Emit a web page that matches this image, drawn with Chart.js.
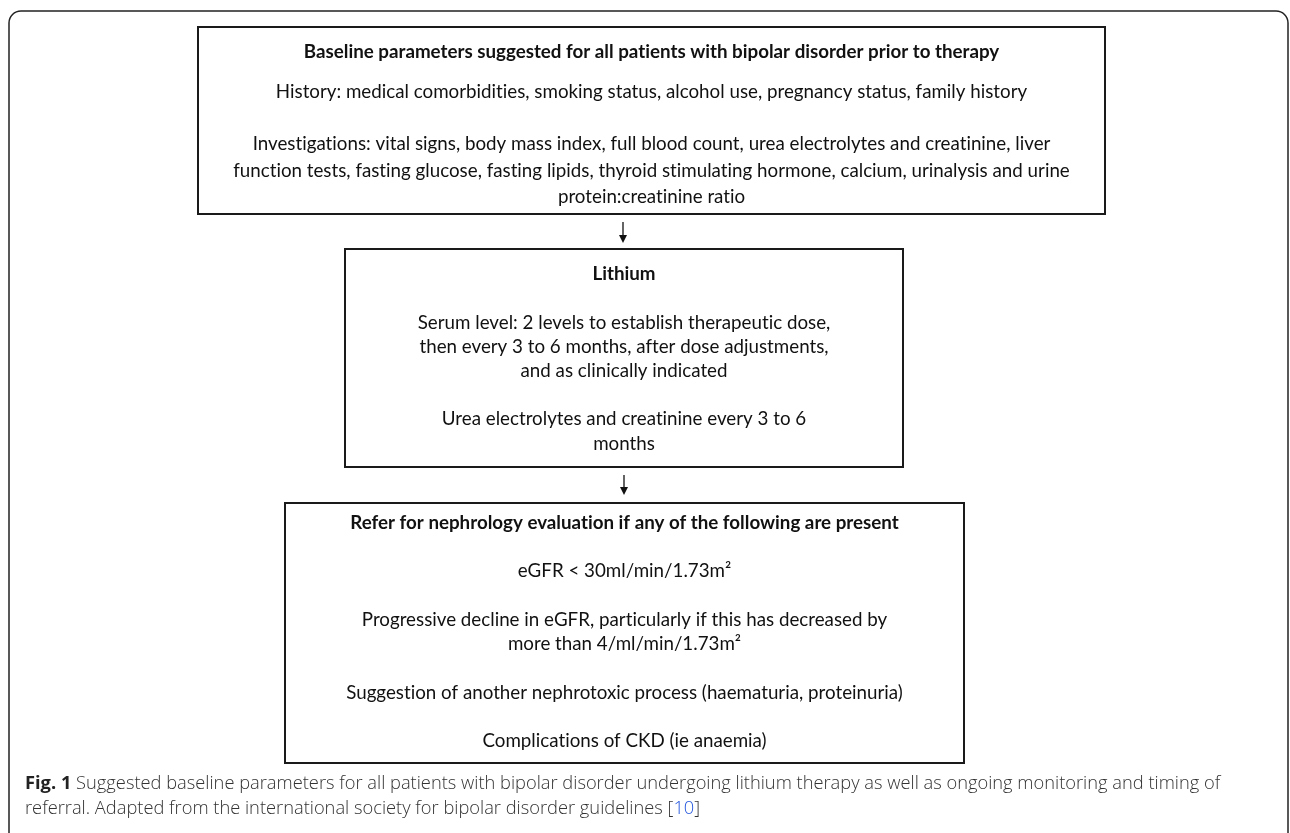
<!DOCTYPE html>
<html><head><meta charset="utf-8">
<script src="https://cdn.jsdelivr.net/npm/chart.js@4"></script>
<style>html,body{margin:0;padding:0;background:#fff;overflow:hidden}canvas{display:block}</style>
</head><body>
<div style="width:1290px;height:833px;position:relative"><canvas id="c" width="1290" height="833"></canvas></div>
<script>
// ---- content (text of the flowchart) ----
const box1Title = "Baseline parameters suggested for all patients with bipolar disorder prior to therapy";
const box1Lines = [
  "History: medical comorbidities, smoking status, alcohol use, pregnancy status, family history",
  "",
  "Investigations: vital signs, body mass index, full blood count, urea electrolytes and creatinine, liver",
  "function tests, fasting glucose, fasting lipids, thyroid stimulating hormone, calcium, urinalysis and urine",
  "protein:creatinine ratio"
];
const box2Title = "Lithium";
const box2Lines = [
  "Serum level: 2 levels to establish therapeutic dose,",
  "then every 3 to 6 months, after dose adjustments,",
  "and as clinically indicated",
  "",
  "Urea electrolytes and creatinine every 3 to 6",
  "months"
];
const box3Title = "Refer for nephrology evaluation if any of the following are present";
const box3Lines = [
  "eGFR < 30ml/min/1.73m\u00B2",
  "",
  "Progressive decline in eGFR, particularly if this has decreased by",
  "more than 4/ml/min/1.73m\u00B2",
  "",
  "Suggestion of another nephrotoxic process (haematuria, proteinuria)",
  "",
  "Complications of CKD (ie anaemia)"
];
const captionLabel = "Fig. 1";
const captionLine1 = " Suggested baseline parameters for all patients with bipolar disorder undergoing lithium therapy as well as ongoing monitoring and timing of";
const captionLine2 = "referral. Adapted from the international society for bipolar disorder guidelines ";
const captionRef = "10";

// ---- layout (positions in scale units) ----
const layout = {
  frame: {x0: 9, y0: 11, x1: 1288, y1: 845, r: 12},
  boxes: [
    {x0: 198, y0: 27, x1: 1105, y1: 214, titleY: 52, firstY: 92, lh: 26.2},
    {x0: 345, y0: 249, x1: 903, y1: 467, titleY: 274, firstY: 323, lh: 24.1},
    {x0: 285, y0: 503, x1: 964, y1: 763, titleY: 523, firstY: 571, lh: 24.3}
  ],
  arrows: [
    {x: 623, y0: 222, y1: 243},
    {x: 624, y0: 475, y1: 495}
  ],
  caption: {x: 25, y1: 784, y2: 809}
};

const FONT = "Lato, 'Open Sans', sans-serif";
const CAPFONT = "'Open Sans', Lato, sans-serif";
const BOXSIZE = "18.75px ";
const CAPSIZE = "18.3px ";

const flowPlugin = {
  id: 'flow',
  afterDraw(chart) {
    const ctx = chart.ctx;
    const sx = chart.scales.x, sy = chart.scales.y;
    const X = v => sx.getPixelForValue(v), Y = v => sy.getPixelForValue(v);
    ctx.save();
    try { ctx.textRendering = 'optimizeSpeed'; } catch (e) {}
    // outer frame
    const f = layout.frame;
    ctx.strokeStyle = '#222'; ctx.lineWidth = 1.5;
    ctx.beginPath();
    ctx.roundRect(X(f.x0), Y(f.y0), X(f.x1) - X(f.x0), Y(f.y1) - Y(f.y0), f.r);
    ctx.stroke();

    const titles = [box1Title, box2Title, box3Title];
    const bodies = [box1Lines, box2Lines, box3Lines];
    layout.boxes.forEach((b, i) => {
      ctx.strokeStyle = '#1a1a1a'; ctx.lineWidth = 2;
      ctx.strokeRect(X(b.x0), Y(b.y0), X(b.x1) - X(b.x0), Y(b.y1) - Y(b.y0));
      const cx = (X(b.x0) + X(b.x1)) / 2;
      ctx.fillStyle = '#111';
      ctx.textAlign = 'center'; ctx.textBaseline = 'middle';
      ctx.font = "bold " + BOXSIZE + FONT;
      ctx.fillText(titles[i], cx, Y(b.titleY));
      ctx.font = BOXSIZE + FONT;
      bodies[i].forEach((ln, k) => {
        if (ln) ctx.fillText(ln, cx, Y(b.firstY + k * b.lh));
      });
    });

    // arrows
    layout.arrows.forEach(a => {
      ctx.strokeStyle = '#111'; ctx.fillStyle = '#111'; ctx.lineWidth = 1.3;
      ctx.beginPath(); ctx.moveTo(X(a.x), Y(a.y0)); ctx.lineTo(X(a.x), Y(a.y1) - 6); ctx.stroke();
      ctx.beginPath();
      ctx.moveTo(X(a.x) - 4, Y(a.y1) - 8); ctx.lineTo(X(a.x) + 4, Y(a.y1) - 8); ctx.lineTo(X(a.x), Y(a.y1));
      ctx.closePath(); ctx.fill();
    });

    // caption
    const c = layout.caption;
    ctx.textAlign = 'left'; ctx.textBaseline = 'middle';
    ctx.fillStyle = '#222';
    ctx.font = "bold " + CAPSIZE + CAPFONT;
    ctx.fillText(captionLabel, X(c.x), Y(c.y1));
    let w = ctx.measureText(captionLabel).width;
    ctx.fillStyle = '#333';
    ctx.font = "300 " + CAPSIZE + CAPFONT;
    ctx.fillText(captionLine1, X(c.x) + w, Y(c.y1));
    ctx.fillText(captionLine2, X(c.x), Y(c.y2));
    let w2 = ctx.measureText(captionLine2).width;
    ctx.fillText("[", X(c.x) + w2, Y(c.y2));
    let wb = ctx.measureText("[").width;
    ctx.fillStyle = '#2255dd';
    ctx.fillText(captionRef, X(c.x) + w2 + wb, Y(c.y2));
    let wr = ctx.measureText(captionRef).width;
    ctx.fillStyle = '#333';
    ctx.fillText("]", X(c.x) + w2 + wb + wr, Y(c.y2));
    ctx.restore();
  }
};

new Chart(document.getElementById('c'), {
  type: 'scatter',
  data: {datasets: []},
  options: {
    responsive: false,
    animation: false,
    devicePixelRatio: 1,
    layout: {padding: 0},
    plugins: {legend: {display: false}, tooltip: {enabled: false}},
    scales: {
      x: {type: 'linear', min: 0, max: 1290, display: false},
      y: {type: 'linear', min: 0, max: 833, reverse: true, display: false}
    }
  },
  plugins: [flowPlugin]
});
</script>
</body></html>
